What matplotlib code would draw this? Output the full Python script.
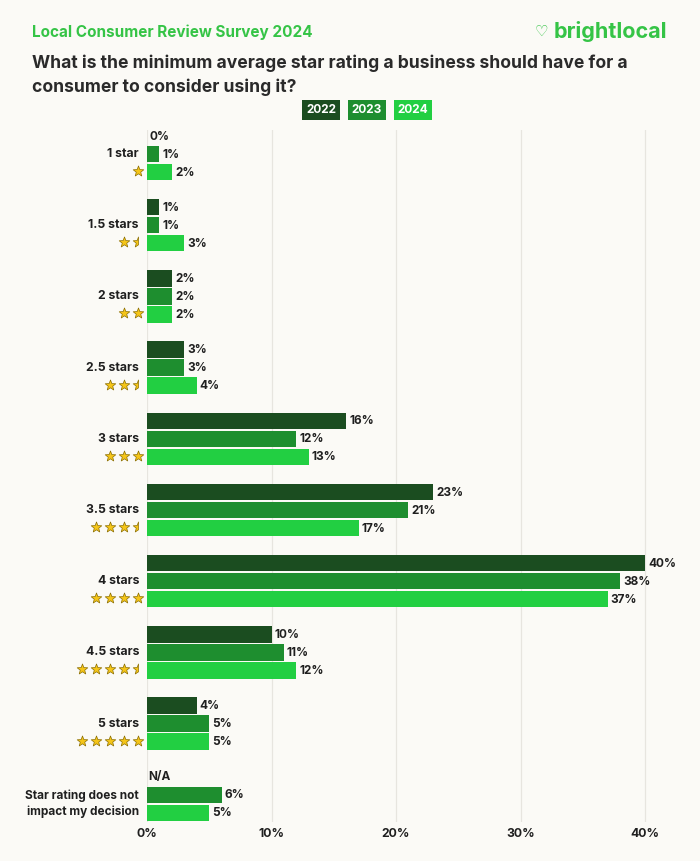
import numpy as np
import matplotlib.pyplot as plt
from matplotlib.path import Path
from matplotlib.transforms import blended_transform_factory

# data (None = not asked that year)
categories = ["1 star", "1.5 stars", "2 stars", "2.5 stars", "3 stars",
              "3.5 stars", "4 stars", "4.5 stars", "5 stars",
              "Star rating does not\nimpact my decision"]
star_counts = [1, 1.5, 2, 2.5, 3, 3.5, 4, 4.5, 5, 0]
years = ["2022", "2023", "2024"]
v2022 = [0, 1, 2, 3, 16, 23, 40, 10, 4, None]
v2023 = [1, 1, 2, 3, 12, 21, 38, 11, 5, 6]
v2024 = [2, 3, 2, 4, 13, 17, 37, 12, 5, 5]
xticks = [0, 10, 20, 30, 40]

colors = ["#1b4d20", "#1e8e2f", "#22cf42"]
bg = "#fbfaf6"
ink = "#1f1f1f"
green_txt = "#35c446"

plt.rcParams['font.family'] = ['Inter', 'DejaVu Sans']

W, H = 700, 861
fig = plt.figure(figsize=(W / 100, H / 100), dpi=100, facecolor=bg)

# axes in pixel layout
left, right, top, bottom = 147, 683, 130, 822
ax = fig.add_axes([left / W, 1 - bottom / H, (right - left) / W, (bottom - top) / H])
ax.set_facecolor(bg)

px_per_unit = (645 - 147) / 40.0
ax.set_xlim(0, (right - left) / px_per_unit)
ax.set_ylim(bottom, top)  # y in pixel units, inverted

group_y0 = 154
group_step = 71.2
bar_step = 18
bar_h = 16.5

for x in xticks:
    ax.axvline(x, color="#e7e5df", lw=0.9, zorder=0)

series = [v2022, v2023, v2024]
for i, cat in enumerate(categories):
    yc = group_y0 + i * group_step
    for j, vals in enumerate(series):
        y = yc + (j - 1) * bar_step
        v = vals[i]
        if v is None:
            ax.text(0.1, y, "N/A", ha="left", va="center", fontsize=8.5,
                    fontweight="bold", color=ink)
            continue
        ax.barh(y, v, height=bar_h, color=colors[j], edgecolor="none", zorder=2)
        ax.text(v + 3 / px_per_unit, y + 0.5, f"{v}%", ha="left", va="center",
                fontsize=8.5, fontweight="bold", color=ink, zorder=3)
    if star_counts[i] == 0:
        ax.text(-8 / px_per_unit, yc + bar_step / 2, cat, ha="right", va="center",
                fontsize=8.5, fontweight="bold", color=ink, linespacing=1.35,
                clip_on=False)
    else:
        ax.text(-8 / px_per_unit, yc, cat, ha="right", va="center",
                fontsize=8.8, fontweight="bold", color=ink, clip_on=False)

# stars under the labels
t = np.arange(10) * np.pi / 5 + np.pi / 2
r = np.where(np.arange(10) % 2 == 0, 1.0, 0.42)
full_verts = np.column_stack([r * np.cos(t), r * np.sin(t)])
full_star = Path(np.vstack([full_verts, full_verts[:1]]), closed=True)
half_verts = full_verts[:6]
half_star = Path(np.vstack([half_verts, half_verts[:1]]), closed=True)

trans = blended_transform_factory(fig.transFigure, ax.transData)
for i, n in enumerate(star_counts):
    if n == 0:
        continue
    yc = group_y0 + i * group_step + bar_step - 1
    n_full = int(n)
    has_half = n != n_full
    total = n_full + (1 if has_half else 0)
    for k in range(total):
        xpix = 138 - (total - 1 - k) * 14
        half = has_half and k == total - 1
        ax.plot([xpix / W], [yc], marker=half_star if half else full_star,
                markersize=8, markerfacecolor="#f5c518",
                markeredgecolor="#8a6d00", markeredgewidth=0.5,
                transform=trans, clip_on=False, zorder=4)

ax.set_xticks(xticks)
ax.set_xticklabels([f"{x}%" for x in xticks], fontsize=8.8, fontweight="bold",
                   color=ink)
ax.tick_params(axis="x", length=0, pad=4)
ax.set_yticks([])
for s in ax.spines.values():
    s.set_visible(False)

# header
fig.text(32 / W, 1 - 32 / H, "Local Consumer Review Survey 2024", ha="left",
         va="center", fontsize=11, fontweight="bold", color=green_txt)
fig.text(32 / W, 1 - 75 / H,
         "What is the minimum average star rating a business should have for a\n"
         "consumer to consider using it?",
         ha="left", va="center", fontsize=12.6, fontweight="bold", color="#2a2a2a",
         linespacing=1.45)
fig.text(667 / W, 1 - 32 / H, "brightlocal", ha="right", va="center",
         fontsize=15.5, fontweight="bold", color=green_txt)
fig.text(541 / W, 1 - 31 / H, r"$\heartsuit$", ha="center", va="center",
         fontsize=11, fontweight="bold", color=green_txt)

# legend boxes
legend_x = [321, 367, 413]
for lx, yr, c in zip(legend_x, years, colors):
    fig.text(lx / W, 1 - 110 / H, yr, ha="center", va="center", fontsize=8.5,
             fontweight="bold", color="white",
             bbox=dict(boxstyle="square,pad=0.3", facecolor=c, edgecolor="none"))

fig.savefig("out.png", dpi=100, facecolor=bg)
